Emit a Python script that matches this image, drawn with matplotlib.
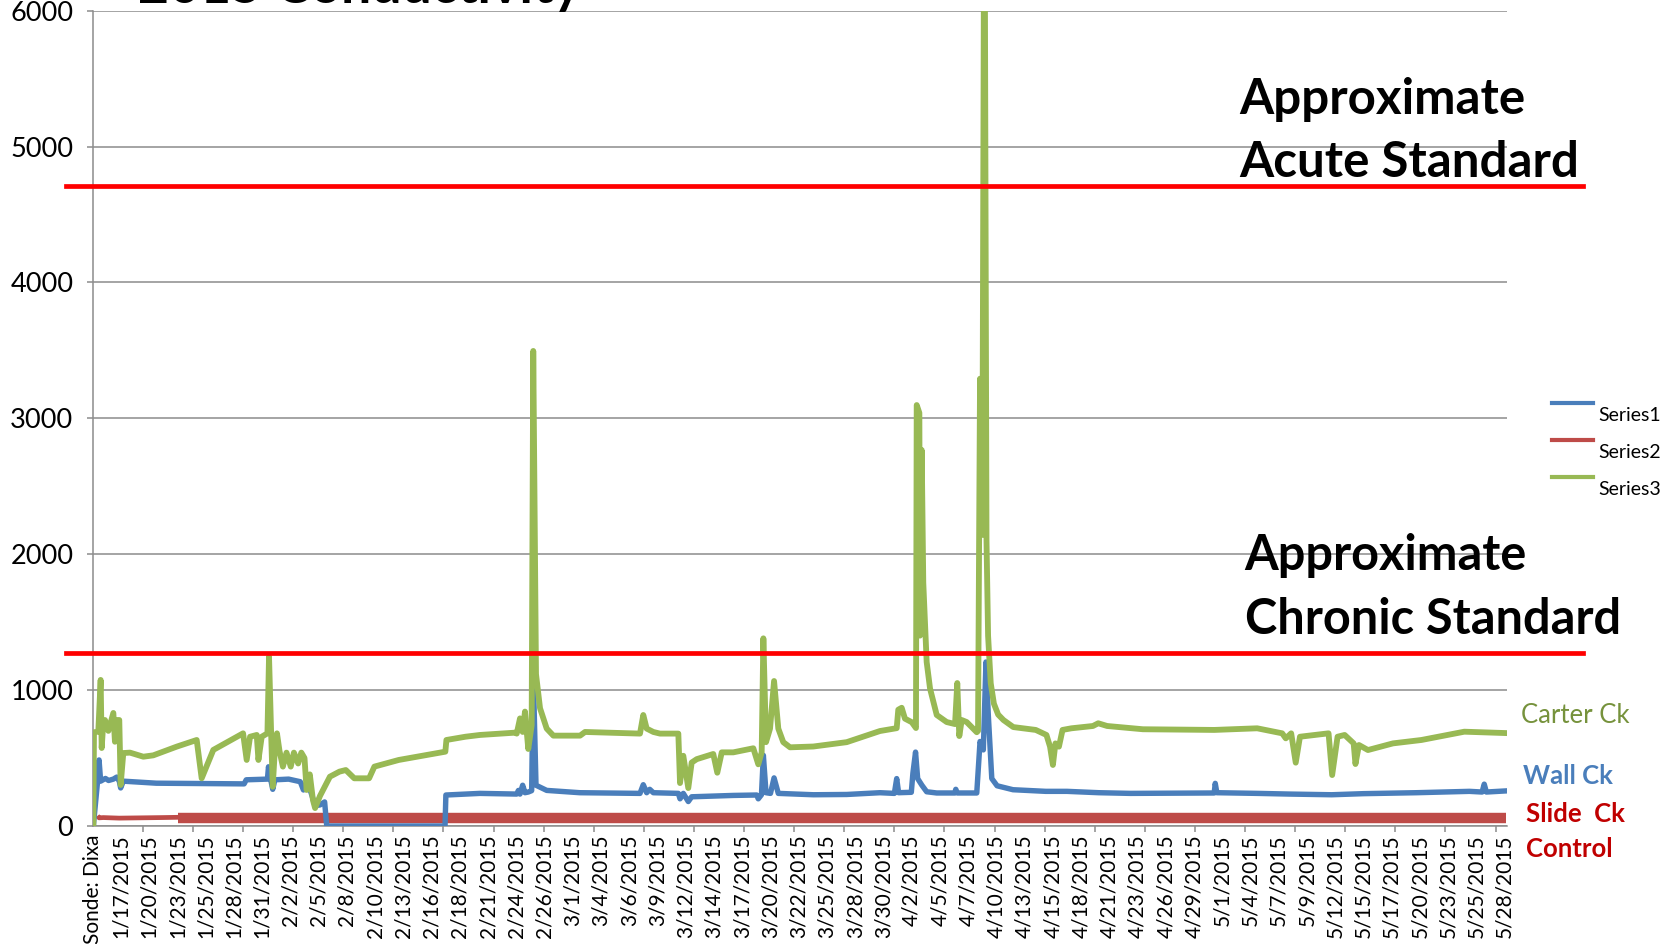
import numpy as np
import matplotlib.pyplot as plt

plt.rcParams['font.family'] = ['Lato', 'DejaVu Sans']

# x = days since the first sonde reading
carter_day = [0.06, 0.12, 0.53, 0.75, 0.85, 1.0, 1.16, 1.48, 1.95, 2.10, 2.27, 2.51, 2.64, 2.89,
              3.52, 4.78, 5.72, 7.93, 9.82, 10.29, 10.6, 11.39, 14.2, 14.54, 14.86, 15.49,
              15.65, 15.96, 16.5, 16.65, 16.85, 17.0, 17.2, 17.4, 17.64, 17.96, 18.3, 18.7,
              19.0, 19.4, 19.7, 20.0, 20.2, 20.5, 20.8, 21.0, 21.46, 22.4, 23.3, 23.9, 24.7,
              26.1, 26.6, 28.9, 32.1, 33.3, 33.4, 35.2, 36.57, 39.9, 40.04, 40.35, 40.6,
              40.82, 41.13, 41.45, 41.6, 41.86, 42.24, 42.87, 43.5, 46.02, 46.49, 51.68,
              51.99, 52.31, 52.94, 53.57, 55.3, 55.46, 55.77, 56.24, 56.56, 57.04, 58.6,
              58.98, 59.4, 60.49, 62.38, 62.85, 63.17, 63.33, 63.58, 63.96, 64.34, 64.74,
              65.21, 65.85, 68.05, 71.2, 74.34, 75.92, 76.07, 76.39, 76.7, 77.34, 77.74,
              77.81, 78.06, 78.12, 78.28, 78.43, 78.75, 79.07, 79.7, 80.64, 81.43, 81.64,
              81.83, 82.06, 82.53, 83.48, 83.6, 83.79, 84.0, 84.2, 84.4, 84.55, 84.8, 85.1,
              85.5, 86.0, 86.93, 89.05, 90.06, 90.4, 90.67, 90.91, 91.24, 91.58, 92.42,
              94.45, 94.95, 95.79, 99.17, 105.91, 109.96, 112.32, 112.66, 113.17, 113.6,
              114.0, 116.7, 117.04, 117.55, 118.22, 119.07, 119.24, 119.57, 120.42, 122.78,
              125.47, 129.52, 133.4]
carter_val = [0, 690, 694, 1075, 574, 760, 780, 700, 832, 620, 780, 780, 302, 537,
              540, 510, 520, 584, 633, 351, 410, 560, 682, 486, 657, 670,
              486, 657, 682, 1246, 682, 289, 560, 682, 552, 437, 540, 437,
              540, 460, 540, 500, 265, 380, 190, 132, 221, 363, 400, 412, 351,
              351, 437, 486, 530, 547, 633, 657, 670, 687, 680, 792, 692,
              842, 567, 742, 3496, 1118, 867, 717, 665, 665, 692, 680,
              817, 717, 692, 680, 680, 316, 517, 279, 467, 492, 530,
              392, 542, 542, 572, 454, 542, 1381, 617, 717, 1067, 717,
              617, 579, 585, 617, 699, 720, 856, 870, 790, 764, 721,
              3098, 3040, 1401, 2767, 1791, 1207, 1011, 817, 765, 750, 1052,
              662, 780, 765, 690, 700, 3292, 2142, 7500, 2100, 1400, 1050, 900,
              820, 780, 728, 707, 670, 584, 449, 608, 584, 707, 719,
              736, 756, 736, 712, 707, 719, 682, 645, 682, 466,
              657, 682, 375, 657, 670, 608, 456, 596, 559, 608,
              633, 694, 684]

wall_day = [0.06, 0.45, 0.6, 0.75, 1.2, 1.5, 1.95, 2.27, 2.51, 2.64, 2.89, 6.0, 14.3, 14.5,
            16.5, 16.6, 16.8, 17.0, 17.2, 18.5, 19.6, 19.9, 20.2, 20.6, 21.0, 21.46, 21.9,
            22.1, 33.27, 33.35, 36.57, 40.04, 40.2, 40.35, 40.6, 40.82, 41.13, 41.45, 41.6,
            41.86, 42.87, 46.0, 51.68, 51.99, 52.31, 52.6, 52.94, 55.3, 55.46, 55.77, 56.24,
            56.56, 60.5, 62.7, 62.85, 63.15, 63.33, 63.58, 64.0, 64.34, 64.74, 68.05, 71.2,
            74.34, 75.7, 75.92, 76.1, 77.3, 77.45, 77.7, 77.9, 78.3, 78.75, 79.7, 81.4,
            81.5, 81.64, 83.48, 83.79, 84.1, 84.35, 84.57, 84.9, 85.4, 86.9, 90.0, 92.0,
            95.0, 98.0, 105.9, 106.0, 106.15, 110.0, 113.0, 117.0, 120.0, 125.0, 130.0,
            131.2, 131.4, 131.6, 133.4]
wall_val = [0, 320, 486, 330, 350, 335, 345, 360, 330, 280, 330, 315, 310, 340,
            345, 436, 345, 270, 340, 345, 326, 265, 320, 250, 150, 155, 177,
            0, 0, 228, 240, 235, 262, 235, 300, 245, 250, 260, 1130,
            300, 262, 245, 240, 304, 245, 270, 245, 240, 200, 240, 180,
            215, 225, 228, 200, 230, 520, 245, 240, 354, 240, 230, 232,
            245, 240, 349, 245, 248, 388, 544, 349, 300, 252, 243, 243,
            270, 243, 243, 622, 560, 1207, 817, 349, 296, 267, 255, 255,
            245, 240, 243, 314, 245, 240, 235, 230, 238, 245, 255,
            250, 308, 250, 258]

slide_day = [0.45, 0.6, 1.0, 2.5, 4.5, 6.5, 8.08]
slide_val = [75, 60, 62, 58, 60, 62, 64]
slide_band_day = [8.08, 133.5]
slide_band_val = [62, 62]

acute_std = 4710
chronic_std = 1270

tick_labels = ["Sonde: Dixa", "1/17/2015", "1/20/2015", "1/23/2015", "1/25/2015", "1/28/2015",
               "1/31/2015", "2/2/2015", "2/5/2015", "2/8/2015", "2/10/2015", "2/13/2015",
               "2/16/2015", "2/18/2015", "2/21/2015", "2/24/2015", "2/26/2015", "3/1/2015",
               "3/4/2015", "3/6/2015", "3/9/2015", "3/12/2015", "3/14/2015", "3/17/2015",
               "3/20/2015", "3/22/2015", "3/25/2015", "3/28/2015", "3/30/2015", "4/2/2015",
               "4/5/2015", "4/7/2015", "4/10/2015", "4/13/2015", "4/15/2015", "4/18/2015",
               "4/21/2015", "4/23/2015", "4/26/2015", "4/29/2015", "5/1/2015", "5/4/2015",
               "5/7/2015", "5/9/2015", "5/12/2015", "5/15/2015", "5/17/2015", "5/20/2015",
               "5/23/2015", "5/25/2015", "5/28/2015"]

label_step = 8 / 3
mark_step = 4.731
x_end = 133.55

blue = '#4a7ebb'
red = '#be4b48'
green = '#98b954'
grid_c = '#8c8c8c'

W, H = 1671, 944
fig = plt.figure(figsize=(W / 100, H / 100), dpi=100)
ax = fig.add_axes([92.7 / W, 1 - 826 / H, (1507 - 92.7) / W, (826 - 10.7) / H])

ax.plot(slide_day, slide_val, color=red, lw=3.4, solid_capstyle='butt', zorder=3)
ax.plot(slide_band_day, slide_band_val, color=red, lw=7.5, solid_capstyle='butt', zorder=3)
ax.plot(wall_day, wall_val, color=blue, lw=3.9, zorder=4)
ax.plot(carter_day, carter_val, color=green, lw=4.2, zorder=5)

ax.set_xlim(0, x_end)
ax.set_ylim(0, 6000)
ax.set_yticks(np.arange(0, 6001, 1000))
ax.yaxis.grid(True, color=grid_c, lw=1.1)
ax.set_axisbelow(True)
for s in ['top', 'right']:
    ax.spines[s].set_visible(False)
for s in ['left', 'bottom']:
    ax.spines[s].set_color(grid_c)
    ax.spines[s].set_linewidth(1.1)

ax.set_xticks(np.arange(len(tick_labels)) * label_step)
ax.set_xticklabels(tick_labels, rotation=90, fontsize=15)
ax.set_xticks(np.arange(0, x_end, mark_step), minor=True)
ax.tick_params(axis='x', which='major', length=0, pad=6)
ax.tick_params(axis='x', which='minor', length=4.5, color=grid_c, width=1.1)
ax.tick_params(axis='y', length=4, color=grid_c, width=1.1, labelsize=19.5, pad=10)

# standards lines run past the plot area
ax.axhline(acute_std, xmin=-0.019, xmax=1.054, color='#ff0000', lw=3.4, clip_on=False, zorder=6)
ax.axhline(chronic_std, xmin=-0.019, xmax=1.054, color='#ff0000', lw=3.4, clip_on=False, zorder=6)

def fx(px):
    return px / W

def fy(py):
    return 1 - py / H

fig.text(fx(138.5), fy(3), "2015 Conductivity", fontsize=38.5, fontweight='bold', va='baseline')
fig.text(fx(1239.5), fy(114), "Approximate", fontsize=35.5, fontweight='bold', va='baseline')
fig.text(fx(1239.5), fy(177), "Acute Standard", fontsize=35.5, fontweight='bold', va='baseline')
fig.text(fx(1244.7), fy(570), "Approximate", fontsize=35, fontweight='bold', va='baseline')
fig.text(fx(1244.7), fy(634), "Chronic Standard", fontsize=35, fontweight='bold', va='baseline')

fig.text(fx(1520.7), fy(723), "Carter Ck", fontsize=18.5, color='#76923c', va='baseline')
fig.text(fx(1523.3), fy(784), "Wall Ck", fontsize=18.5, fontweight='bold', color=blue, va='baseline')
fig.text(fx(1526), fy(821.7), "Slide  Ck", fontsize=18.5, fontweight='bold', color='#c00000', va='baseline')
fig.text(fx(1526), fy(856.7), "Control", fontsize=18.5, fontweight='bold', color='#c00000', va='baseline')

# legend, drawn the way the spreadsheet laid it out
for i, (name, c) in enumerate([("Series1", blue), ("Series2", red), ("Series3", green)]):
    ly = 402.7 + i * 37.3
    fig.add_artist(plt.Line2D([fx(1552.3), fx(1593.3)], [fy(ly), fy(ly)], color=c, lw=3))
    fig.text(fx(1598.3), fy(ly + 18), name, fontsize=14, va='baseline')

fig.savefig("out.png", dpi=100)
